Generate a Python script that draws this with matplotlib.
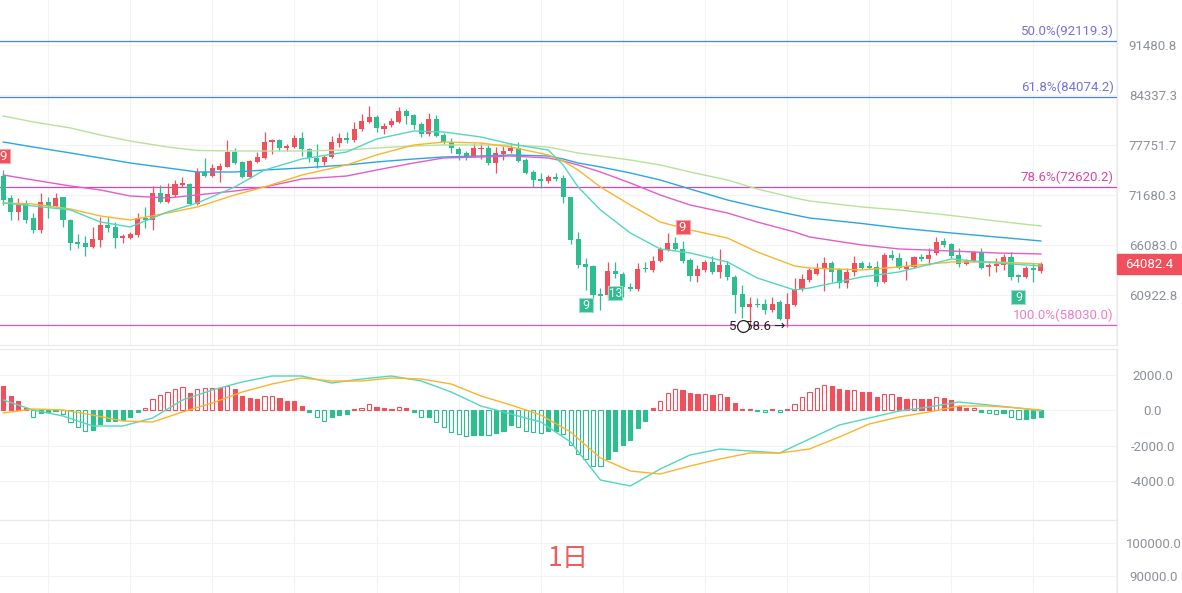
import numpy as np
import matplotlib.pyplot as plt
from matplotlib.patches import Rectangle
from matplotlib.transforms import offset_copy
from matplotlib.ticker import NullLocator

plt.rcParams['font.family'] = ['Roboto', 'DejaVu Sans']

# daily candles (index 0..139)
opens = [74000, 71300, 69750, 70780, 69070, 67730, 70890, 70430, 71470, 68840,
         66400, 66300, 65880, 66640, 68280, 68060, 66860, 66860, 67180, 69070,
         68840, 71930, 70890, 71700, 72860, 72980, 70660, 74430, 73950, 74670,
         75030, 76900, 75650, 73830, 75650, 76150, 78160, 78410, 77400, 77520,
         78670, 77270, 76150, 75650, 76280, 78030, 78670, 78410, 79830, 80740,
         81400, 79830, 80350, 80740, 82200, 81670, 80480, 79180, 81140, 79050,
         78160, 77270, 76780, 76400, 77270, 77400, 75520, 76650, 77020, 77400,
         75900, 74430, 73590, 73350, 73830, 73710, 71470, 66750, 64100, 63890,
         61040, 60940, 63350, 63040, 61730, 61530, 63670, 63460, 64400, 65560,
         66300, 65670, 64500, 62850, 63460, 64300, 63250, 63990, 62740, 61040,
         59760, 60050, 60050, 59460, 60240, 58600, 59950, 61530, 62440, 63040,
         63670, 64190, 63570, 62130, 63250, 64190, 63880, 63780, 62240, 65030,
         64720, 63570, 63780, 64830, 64610, 65240, 66530, 66190, 65030, 64080,
         64400, 65350, 63780, 63880, 63990, 64830, 62950, 62740, 63670, 63360]
highs = [74670, 71700, 71350, 71120, 69600, 71930, 71470, 71930, 71500, 68900,
         67300, 67070, 68060, 69180, 69180, 68620, 67300, 67500, 69600, 70320,
         72750, 72860, 73100, 73470, 73830, 73100, 74920, 76150, 75400, 75520,
         78410, 77400, 75780, 75900, 76900, 79440, 78540, 78540, 77900, 79050,
         79440, 77400, 77900, 76520, 78920, 79300, 79440, 80750, 81800, 82870,
         81670, 80610, 81270, 82730, 82470, 81800, 80750, 81940, 81670, 79300,
         78670, 77520, 77020, 78030, 78030, 77770, 77520, 77650, 78030, 78160,
         76150, 74670, 74310, 74070, 74310, 74070, 71500, 67510, 64720, 63990,
         61630, 64300, 64300, 63250, 62130, 64190, 64300, 64940, 65880, 67400,
         66970, 66530, 64720, 63990, 64500, 64940, 65670, 64400, 62950, 61930,
         60740, 60640, 60540, 60740, 60440, 61130, 62650, 63040, 63670, 64190,
         64830, 64400, 63670, 63670, 64940, 64400, 64300, 64400, 65240, 65560,
         65240, 64400, 64940, 65140, 65780, 66970, 66860, 66300, 65780, 64610,
         65460, 65780, 64190, 64720, 65140, 65350, 63040, 63880, 64190, 64300]
lows = [70500, 68840, 68840, 68500, 67400, 67400, 69070, 70320, 68060, 65560,
        65780, 64940, 65780, 65880, 67510, 65780, 66300, 66750, 66970, 67950,
        67730, 70780, 70780, 71470, 72630, 70550, 70550, 73830, 73830, 73240,
        75030, 75400, 73710, 73710, 75520, 76030, 76650, 77020, 77020, 77400,
        76400, 75650, 74920, 75280, 76150, 77520, 78030, 78160, 79570, 80600,
        79440, 79180, 80090, 80610, 80480, 79830, 78800, 78920, 78800, 77900,
        76780, 75900, 75900, 76280, 76030, 75280, 74310, 75900, 76780, 75650,
        74190, 72630, 72510, 73100, 73350, 70780, 66190, 63660, 61430, 60440,
        59460, 60440, 62640, 60740, 61330, 61330, 63250, 63250, 64300, 65460,
        65560, 64190, 62340, 62240, 63250, 63040, 62640, 62440, 59170, 58700,
        57960, 59760, 59070, 59270, 58500, 57800, 59850, 61330, 62240, 62950,
        61330, 62240, 61630, 61630, 62850, 63570, 63570, 61830, 62130, 64500,
        63570, 62440, 63670, 64400, 63990, 65030, 65880, 64720, 63780, 63990,
        64300, 63570, 62850, 63250, 63460, 62440, 62240, 62640, 62240, 63150]
closes = [71120, 69750, 70550, 68840, 67730, 70890, 70430, 71350, 68840, 66300,
          66190, 65880, 66750, 68280, 67950, 66860, 67070, 67300, 69070, 68840,
          71930, 70890, 71810, 72980, 73100, 70660, 74430, 73950, 74920, 75160,
          76900, 75520, 73830, 75770, 76280, 78160, 78410, 77400, 77650, 78670,
          77270, 76150, 75650, 76280, 78160, 78670, 78410, 79830, 80870, 81400,
          79960, 80220, 80870, 82200, 81530, 80350, 79180, 81140, 78920, 78160,
          77400, 76650, 76400, 77400, 77400, 75520, 76780, 77020, 77400, 75770,
          74310, 73470, 73350, 73830, 73590, 71470, 66640, 63990, 63790, 60940,
          60840, 63350, 63040, 61730, 61530, 63570, 63570, 64400, 65670, 66300,
          65670, 64400, 62850, 63570, 64300, 63250, 63990, 62740, 60940, 59760,
          60050, 59950, 59460, 60050, 58600, 60050, 61530, 62540, 63460, 63670,
          64190, 63250, 62130, 63250, 64190, 63670, 63670, 62240, 65030, 64720,
          63670, 63880, 64830, 64610, 65030, 66420, 66080, 64940, 64080, 64400,
          65350, 63670, 63990, 64080, 64830, 62740, 62740, 63670, 63460, 64082.4]

# moving averages read at a few candle positions
ma_idx = [0, 4, 9, 13, 17, 22, 26, 31, 35, 40, 46, 50, 55, 59, 64, 68, 73, 75,
          77, 80, 84, 88, 92, 97, 101, 106, 108, 115, 120, 127, 133, 139]
ma_teal = [70775, 70430, 69973, 68618, 68063, 69746, 70775, 72639, 74672, 76026,
           76896, 78538, 79566, 79437, 78794, 77901, 77147, 75289, 72639, 69973,
           67402, 65673, 65245, 64297, 62644, 61430, 61628, 62748, 63258, 64611,
           64193, 63880]
ma_orange = [70775, 70660, 70083, 69290, 68842, 69632, 70316, 71702, 72639, 74070,
             75289, 76522, 77775, 78155, 78028, 77523, 76522, 75777, 74672, 72639,
             70541, 68618, 67733, 66855, 65353, 63880, 63671, 63462, 63775, 64297,
             64297, 64088]
ma_pink = [74070, 73471, 72757, 72288, 71582, 71353, 71702, 72166, 72639, 73587,
           73949, 74672, 75533, 76150, 76274, 76398, 76150, 75777, 75289, 74433,
           73113, 71702, 70541, 69632, 68618, 67512, 66966, 66102, 65673, 65458,
           65245, 65139]
ma_blue = [78155, 77523, 76771, 76150, 75533, 74923, 74433, 74433, 74672, 74923,
           75289, 75656, 76026, 76274, 76398, 76522, 76398, 76026, 75533, 75045,
           74312, 73471, 72404, 71121, 70316, 69406, 69068, 68452, 67953, 67402,
           66966, 66531]
ma_green = [81530, 80750, 79960, 79050, 78280, 77520, 77090, 77020, 77020, 77020,
            77150, 77400, 77650, 77780, 77780, 77780, 77520, 77150, 76770, 76400,
            75900, 75290, 74433, 73471, 72404, 71353, 71007, 70316, 69973, 69350,
            68730, 68170]

# MACD
macd_idx = list(range(0, 137, 4)) + [139]
dif = [563, 0, -338, -901, -901, -451, 563, 1127, 1578, 1916, 1916, 1521, 1747,
       1916, 1634, 1014, 225, -225, -676, -1803, -3944, -4282, -3324, -2535,
       -2197, -2310, -2423, -1634, -845, -451, -56, 169, 451, 282, 113, -56]
dea = [-169, 56, 0, -282, -620, -676, -113, 394, 1014, 1465, 1803, 1634, 1634,
       1803, 1747, 1465, 789, 282, -282, -1239, -2704, -3437, -3606, -3155,
       -2761, -2423, -2423, -2197, -1521, -789, -394, -113, 225, 225, 113, 0]
hist = [1352, 789, 507, 94, -376, -188, -131, -40, -225, -695,
        -977, -1164, -1127, -808, -620, -600, -563, -413, -94, 110,
        601, 845, 995, 1164, 1277, 939, 1164, 1220, 1240, 1220,
        1352, 1164, 789, 657, 601, 789, 800, 657, 507, 500,
        225, -131, -413, -601, -413, -282, -244, 56, 131, 319,
        150, 94, 56, 150, 131, -94, -413, -400, -695, -977,
        -1220, -1352, -1465, -1408, -1400, -1420, -1315, -1164, -845, -939,
        -1164, -1258, -1315, -1183, -1170, -1352, -1972, -2498, -2779, -3155,
        -3170, -2761, -2291, -1972, -1690, -1033, -620, 94, 526, 939,
        1164, 1127, 939, 883, 890, 870, 880, 714, 413, 56,
        40, -30, -120, 40, -110, 75, 338, 751, 995, 1221,
        1409, 1352, 1164, 1127, 1150, 1033, 995, 751, 901, 910,
        714, 620, 630, 615, 610, 714, 700, 563, 244, 94,
        100, -94, -188, -225, -150, -413, -526, -520, -470, -376]

fib_levels = [92119.3, 84074.2, 72620.2, 58030.0]
fib_labels = ['50.0%(92119.3)', '61.8%(84074.2)', '78.6%(72620.2)', '100.0%(58030.0)']
fib_line_colors = ['#4a82dc', '#4a82dc', '#d846b4', '#e055c6']
fib_text_colors = ['#7272e0', '#7272e0', '#e2479c', '#f27ccb']

price_ticks = [91480.8, 84337.3, 77751.7, 71680.3, 66083.0, 60922.8]
macd_ticks = [2000, 0, -2000, -4000]
lower_ticks = [100000, 90000]

td_above = [(0, '9'), (91, '9')]
td_below = [(78, '9'), (82, '13'), (136, '9')]
low_mark = 105

UP = '#f0505c'
DOWN = '#2ebd8f'
GRID = '#f3f3f4'
SEP = '#e9e9ec'
TICK = '#8c9199'

n = len(closes)
idx = np.arange(n)
o = np.array(opens, float)
c = np.array(closes, float)
colors = np.where(c >= o, UP, DOWN)

fig = plt.figure(figsize=(11.82, 5.93), dpi=100)
W = 1117 / 1182
ax = fig.add_axes([0, 248 / 593, W, 345 / 593])
axm = fig.add_axes([0, 73 / 593, W, 171 / 593], sharex=ax)
axv = fig.add_axes([0, 0, W, 73 / 593], sharex=ax)

grid_idx = list(range(6, 150, 11))
for a in (ax, axm, axv):
    a.set_xticks(grid_idx)
    a.tick_params(axis='x', length=0, labelbottom=False)
    a.grid(True, color=GRID, lw=0.8)
    a.set_axisbelow(True)
    for s in a.spines.values():
        s.set_color(SEP)
        s.set_linewidth(0.8)
    a.spines['left'].set_visible(False)
    a.yaxis.tick_right()
    a.tick_params(axis='y', length=0, labelsize=9.5, labelcolor=TICK)

ax.set_xlim(-0.44, 149.2)

# --- price panel
ylo, yhi = 56172, 98467
ax.set_yscale('log')
ax.set_ylim(ylo, yhi)
ax.yaxis.set_minor_locator(NullLocator())
ax.set_yticks(price_ticks)
ax.set_yticklabels([f'{v:.1f}' for v in price_ticks])
ax.spines['top'].set_visible(False)

for lvl, lc in zip(fib_levels, fib_line_colors):
    ax.axhline(lvl, color=lc, lw=0.9, zorder=2)
for lvl, lab, tc in zip(fib_levels, fib_labels, fib_text_colors):
    ax.annotate(lab, xy=(1.0, lvl), xycoords=('axes fraction', 'data'),
                xytext=(-2.5, 2), textcoords='offset points',
                ha='right', va='bottom', color=tc, fontsize=9.5)

ax.vlines(idx, lows, highs, colors=colors, lw=0.9, zorder=3)
body = c - o
ax.bar(idx, body, bottom=o, width=0.68, color=colors, linewidth=0, zorder=4)

for vals, col in [(ma_green, '#b8e29a'), (ma_blue, '#2aa6e6'),
                  (ma_pink, '#e65cc8'), (ma_orange, '#fdb42c'),
                  (ma_teal, '#52d8be')]:
    ax.plot(ma_idx, vals, color=col, lw=1.0, zorder=5)

# TD sequential markers
for i, lab in td_above:
    tr = offset_copy(ax.transData, fig=fig, x=0, y=10, units='points')
    ax.plot(i, highs[i], marker='s', ms=10, mfc=UP, mec='#f6a3aa', mew=0.8,
            transform=tr, zorder=7)
    ax.text(i, highs[i], lab, transform=tr, ha='center', va='center',
            color='white', fontsize=9.5, zorder=8)
for i, lab in td_below:
    tr = offset_copy(ax.transData, fig=fig, x=0, y=-11, units='points')
    ax.plot(i, lows[i], marker='s', ms=10, mfc=DOWN, mec='#9fe0c9', mew=0.8,
            transform=tr, zorder=7)
    ax.text(i, lows[i], lab, transform=tr, ha='center', va='center',
            color='white', fontsize=9 if len(lab) == 1 else 8.5, zorder=8)

# lowest-low label
lv = lows[low_mark]
ax.annotate('58.6 →', xy=(low_mark, lv), xytext=(-1.5, 1), textcoords='offset points',
            ha='right', va='center', fontsize=9.5, color='#222222', zorder=8)
ax.annotate('5', xy=(low_mark, lv), xytext=(-36.5, 1), textcoords='offset points',
            ha='right', va='center', fontsize=9.5, color='#222222', zorder=8)
tr = offset_copy(ax.transData, fig=fig, x=-31.5, y=1.2, units='points')
ax.plot(low_mark, lv, marker='o', ms=8.5, mfc='white', mec='#222222', mew=0.9,
        transform=tr, zorder=9, clip_on=False)

# last price box
yf = (np.log(closes[-1]) - np.log(ylo)) / (np.log(yhi) - np.log(ylo))
bh = 20 / 345
ax.add_patch(Rectangle((1.0, yf - bh / 2), 65 / 1117, bh, transform=ax.transAxes,
                       color=UP, clip_on=False, zorder=10))
ax.text(1.0 + 32.5 / 1117, yf, f'{closes[-1]:.1f}', transform=ax.transAxes,
        ha='center', va='center', color='white', fontsize=9.5, zorder=11)

# --- MACD panel
axm.set_ylim(-6197, 3437)
axm.set_yticks(macd_ticks)
axm.set_yticklabels([f'{v:.1f}' for v in macd_ticks])
h = np.array(hist, float)
prev = np.concatenate([[np.inf], np.abs(h[:-1])])
hollow = np.abs(h) > prev
hcol = np.where(h >= 0, UP, DOWN)
face = ['white' if ho else hc for ho, hc in zip(hollow, hcol)]
axm.bar(idx, h, width=0.56, color=face, edgecolor=hcol, linewidth=0.8, zorder=3)
axm.plot(macd_idx, dif, color='#52d8be', lw=1.0, zorder=5)
axm.plot(macd_idx, dea, color='#fdb42c', lw=1.0, zorder=5)

# --- lower panel
axv.set_ylim(84848, 106970)
axv.set_yticks(lower_ticks)
axv.set_yticklabels([f'{v:.1f}' for v in lower_ticks])
axv.spines['bottom'].set_visible(False)

for a, pad in ((ax, 25.9), (axm, 25.9), (axv, 26.5)):
    a.tick_params(axis='y', pad=pad)
    for t in a.get_yticklabels():
        t.set_ha('center')

fig.text(568 / 1182, 1 - 559 / 593, '1日', color='#f25b5b', fontsize=19,
         ha='center', va='center', family=['Noto Sans CJK SC', 'DejaVu Sans'])

fig.savefig('out.png', dpi=100)
